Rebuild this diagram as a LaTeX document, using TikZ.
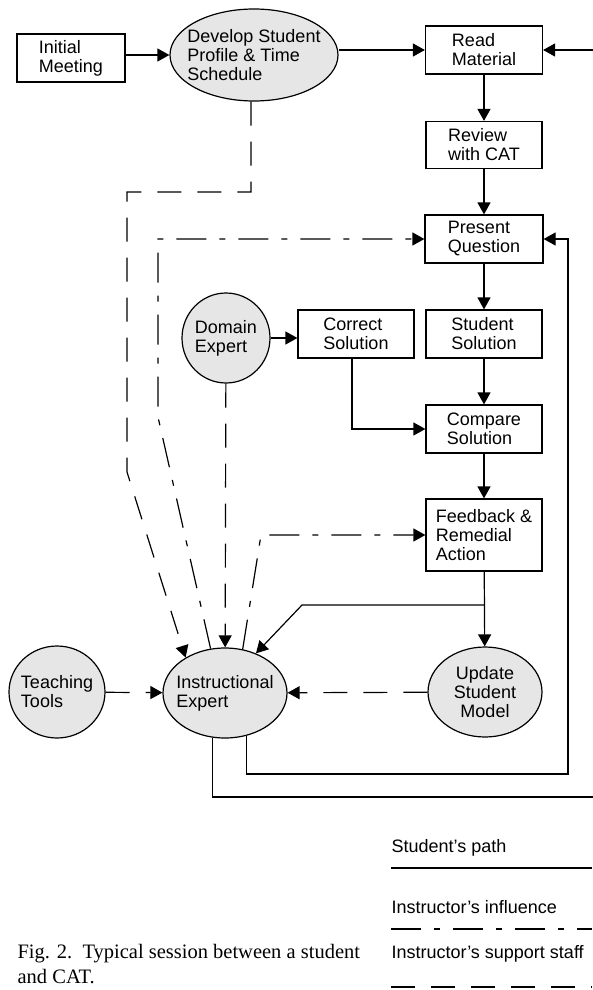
\documentclass[tikz,border=0pt]{standalone}
\usepackage{fontspec}
\setmainfont{Liberation Sans}
\newfontfamily\capfont{Liberation Serif}
\usepackage{tikz}
\usetikzlibrary{shapes.geometric,arrows.meta,positioning}
\definecolor{nodegray}{HTML}{E6E6E6}
\newcommand\diafont{\fontsize{18}{19}\selectfont}

\begin{document}
\begin{tikzpicture}[x=1pt, y=-1pt, line width=1.2pt,
  stepbox/.style={draw, minimum width=116pt, minimum height=48pt, inner sep=0pt, align=left, font=\diafont},
  expert/.style={draw, ellipse, fill=nodegray, inner xsep=-40pt, inner ysep=-30pt, align=left, font=\diafont},
  support/.style={dash pattern=on 24pt off 16pt},
  influence/.style={dash pattern=on 30pt off 13pt on 6pt off 13pt},
  legend/.style={anchor=base west, inner sep=0pt, font=\diafont},
  >={Triangle[length=12pt,width=13pt]}
]
\useasboundingbox (0,0) rectangle (592,990);

\node[stepbox, minimum width=108pt] (initial) at (71,58) {Initial\\Meeting};
\node[expert, minimum width=168pt, minimum height=92pt] (develop) at (254,55) {Develop Student\\Profile \& Time\\Schedule};
\node[stepbox, minimum width=117pt] (read) at (484,50) {Read\\Material};
\node[stepbox, minimum height=47pt] (review) at (484,145) {Review\\with CAT};
\node[stepbox, minimum width=118pt] (present) at (484,239) {Present\\Question};
\node[stepbox] (student) at (484,334) {Student\\Solution};
\node[stepbox] (correct) at (356,334) {Correct\\Solution};
\node[expert, minimum width=88pt, minimum height=90pt] (domain) at (226,338) {Domain\\Expert};
\node[stepbox] (compare) at (484,429) {Compare\\Solution};
\node[stepbox, minimum height=72pt] (feedback) at (484,535) {Feedback \&\\Remedial\\Action};
\node[expert, minimum width=114pt, minimum height=90pt, align=center] (update) at (485,692) {Update\\Student\\Model};
\node[expert, minimum width=124pt, minimum height=90pt] (instr) at (225,693) {Instructional\\Expert};
\node[expert, minimum width=96pt, minimum height=92pt] (teaching) at (57,692) {Teaching\\Tools};

\coordinate (fork) at (484,605);
\coordinate (bend) at (302,605);
\coordinate (loopa) at (568,774);
\coordinate (loopb) at (595,797);
\coordinate (s1) at (127,192);
\coordinate (s2) at (127,472);
\coordinate (i1) at (158,417);
\coordinate (i2) at (261,535);

\draw[->] (initial.east |- develop) -- (develop);
\draw[->] (develop.east |- read) -- (read);
\draw[->] (read) -- (review);
\draw[->] (review) -- (present);
\draw[->] (present) -- (student);
\draw[->] (student) -- (compare);
\draw[->] (compare) -- (feedback);
\draw[->] (feedback) -- (update);
\draw[->] (domain.east) -- (domain.east -| correct.west);
\draw[->] ([xshift=-4pt]correct.south) |- (compare);
\draw[->] (fork) -- (bend) -- (instr.52);
\draw[->] (instr.-63) |- (loopa) |- (present);
\draw[->] (instr.-106) |- (loopb) |- (read);

\draw[support,->] ([xshift=-3pt]develop.south) |- (s1) -- (s2) -- (instr.138);
\draw[support,->] (domain) -- (instr);
\draw[support,->] (teaching) -- (instr);
\draw[support,->] (update) -- (instr);

\draw[influence,->] (instr.108) -- (i1) |- (present);
\draw[influence,->] (instr.68) -- (i2) -- (feedback);

\node[legend] (lpath) at (391,852) {Student’s path};
\draw ([yshift=-16pt]lpath.base west) -- ++(201,0);
\node[legend] (linfl) at (391,913) {Instructor’s influence};
\draw[influence] ([yshift=-16pt]linfl.base west) -- ++(201,0);
\node[legend] (lsupp) at (391,958) {Instructor’s support staff};
\draw[support] ([yshift=-29pt]lsupp.base west) -- ++(201,0);

\node[anchor=north west, inner sep=0pt, align=left, font={\capfont\fontsize{20.5}{25}\selectfont}] (caption) at (17,944) {Fig. 2.\ \ Typical session between a student\\and CAT.};
\end{tikzpicture}
\end{document}
